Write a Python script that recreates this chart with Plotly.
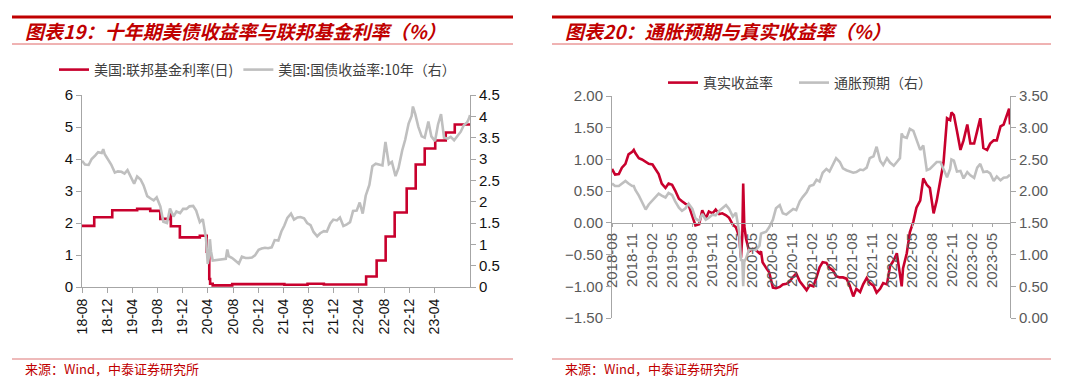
import pandas as pd
import plotly.graph_objects as go

# ---------------- data ----------------
DATES = (
    ["2018-08-01", "2018-08-15", "2018-09-01", "2018-09-15", "2018-10-01", "2018-10-15",
     "2018-11-01", "2018-11-08", "2018-11-15", "2018-12-01", "2018-12-15"]
    + ["2019-01-01", "2019-01-15", "2019-02-01", "2019-02-15", "2019-03-01", "2019-03-15",
       "2019-04-01", "2019-04-15", "2019-05-01", "2019-05-15", "2019-06-01", "2019-06-15",
       "2019-07-01", "2019-07-15", "2019-08-01", "2019-08-15", "2019-09-01", "2019-09-15",
       "2019-10-01", "2019-10-15", "2019-11-01", "2019-11-15", "2019-12-01", "2019-12-15"]
    + ["2020-01-01", "2020-01-15", "2020-02-01", "2020-02-15", "2020-03-01", "2020-03-09",
       "2020-03-15", "2020-03-19", "2020-03-24", "2020-04-01", "2020-04-15", "2020-05-01",
       "2020-05-15", "2020-06-01", "2020-06-08", "2020-06-15", "2020-07-01", "2020-07-15",
       "2020-08-01", "2020-08-15", "2020-09-01", "2020-09-15", "2020-10-01", "2020-10-15",
       "2020-11-01", "2020-11-15", "2020-12-01", "2020-12-15"]
    + ["2021-01-01", "2021-01-15", "2021-02-01", "2021-02-15", "2021-03-01", "2021-03-15",
       "2021-04-01", "2021-04-15", "2021-05-01", "2021-05-15", "2021-06-01", "2021-06-15",
       "2021-07-01", "2021-07-15", "2021-08-01", "2021-08-15", "2021-09-01", "2021-09-15",
       "2021-10-01", "2021-10-15", "2021-11-01", "2021-11-15", "2021-12-01", "2021-12-15"]
    + ["2022-01-01", "2022-01-15", "2022-02-01", "2022-02-15", "2022-03-01", "2022-03-09",
       "2022-03-15", "2022-04-01", "2022-04-15", "2022-05-01", "2022-05-15", "2022-06-01",
       "2022-06-15", "2022-07-01", "2022-07-15", "2022-08-01", "2022-08-15", "2022-09-01",
       "2022-09-15", "2022-10-01", "2022-10-15", "2022-10-21", "2022-11-01", "2022-11-15",
       "2022-12-01", "2022-12-15"]
    + ["2023-01-01", "2023-01-15", "2023-02-01", "2023-02-15", "2023-03-01", "2023-03-15",
       "2023-04-01", "2023-04-15", "2023-05-01", "2023-05-15", "2023-06-01", "2023-06-15",
       "2023-07-01", "2023-07-10", "2023-07-14"]
)

UST10Y = (
    [2.96, 2.87, 2.86, 3.00, 3.08, 3.16, 3.14, 3.23, 3.11, 2.99, 2.87]
    + [2.68, 2.71, 2.70, 2.66, 2.74, 2.59, 2.42, 2.59, 2.52, 2.38, 2.13, 2.08,
       2.03, 2.10, 1.89, 1.53, 1.50, 1.84, 1.65, 1.77, 1.73, 1.83, 1.83, 1.89]
    + [1.90, 1.79, 1.52, 1.59, 1.13, 0.54, 0.73, 1.12, 0.84, 0.62, 0.63, 0.64,
       0.64, 0.66, 0.88, 0.72, 0.68, 0.62, 0.55, 0.71, 0.68, 0.68, 0.69, 0.74,
       0.87, 0.90, 0.92, 0.91]
    + [0.93, 1.10, 1.09, 1.30, 1.44, 1.62, 1.72, 1.58, 1.63, 1.64, 1.61, 1.50,
       1.45, 1.29, 1.19, 1.26, 1.31, 1.30, 1.49, 1.58, 1.56, 1.63, 1.43, 1.46]
    + [1.52, 1.78, 1.79, 1.98, 1.72, 1.95, 2.14, 2.39, 2.83, 2.89, 2.88, 2.85,
       3.40, 2.88, 2.93, 2.60, 2.79, 3.20, 3.45, 3.83, 4.01, 4.23, 4.05, 3.76,
       3.53, 3.50]
    + [3.88, 3.53, 3.42, 3.81, 4.05, 3.50, 3.48, 3.52, 3.44, 3.53, 3.64, 3.79,
       3.86, 3.96, 4.03]
)

REAL_YIELD = (
    [0.85, 0.76, 0.77, 0.87, 0.93, 1.08, 1.12, 1.15, 1.10, 1.02, 1.00]
    + [0.96, 0.93, 0.92, 0.84, 0.77, 0.62, 0.55, 0.62, 0.60, 0.51, 0.38, 0.34,
       0.30, 0.28, 0.12, -0.04, -0.02, 0.20, 0.07, 0.18, 0.15, 0.21, 0.14, 0.15]
    + [0.12, 0.08, -0.03, -0.07, -0.22, -0.55, -0.20, 0.62, -0.05, -0.25, -0.45, -0.41,
       -0.43, -0.48, -0.45, -0.62, -0.71, -0.78, -1.02, -1.03, -1.01, -0.97, -0.96, -0.93,
       -0.85, -0.80, -0.92, -0.98]
    + [-1.06, -0.98, -1.00, -0.86, -0.70, -0.62, -0.63, -0.71, -0.75, -0.84, -0.86, -0.86,
       -0.88, -0.98, -1.16, -1.04, -1.09, -0.97, -0.87, -0.95, -0.99, -1.10, -1.04, -0.95]
    + [-0.97, -0.68, -0.59, -0.48, -0.80, -1.00, -0.72, -0.48, -0.15, 0.02, 0.24, 0.35,
       0.70, 0.60, 0.55, 0.15, 0.35, 0.72, 0.95, 1.65, 1.62, 1.74, 1.70, 1.45,
       1.15, 1.30]
    + [1.55, 1.25, 1.25, 1.45, 1.65, 1.18, 1.15, 1.25, 1.30, 1.30, 1.52, 1.55,
       1.72, 1.80, 1.55]
)

BREAKEVEN = (
    [2.12, 2.08, 2.08, 2.12, 2.16, 2.12, 2.08, 2.08, 2.02, 1.93, 1.82]
    + [1.71, 1.79, 1.85, 1.90, 1.96, 1.93, 1.90, 1.97, 1.94, 1.84, 1.74, 1.69,
       1.73, 1.80, 1.72, 1.57, 1.53, 1.64, 1.55, 1.58, 1.63, 1.62, 1.69, 1.73]
    + [1.78, 1.72, 1.60, 1.66, 1.35, 0.90, 0.93, 0.50, 0.89, 0.94, 1.08, 1.08,
       1.07, 1.14, 1.33, 1.34, 1.36, 1.43, 1.55, 1.73, 1.78, 1.65, 1.63, 1.67,
       1.72, 1.70, 1.84, 1.91]
    + [1.98, 2.08, 2.10, 2.18, 2.15, 2.29, 2.35, 2.31, 2.42, 2.52, 2.46, 2.36,
       2.33, 2.31, 2.29, 2.30, 2.34, 2.33, 2.37, 2.52, 2.55, 2.70, 2.48, 2.41]
    + [2.52, 2.45, 2.40, 2.46, 2.52, 2.91, 2.86, 2.84, 2.98, 2.95, 2.80, 2.65,
       2.72, 2.33, 2.35, 2.42, 2.46, 2.46, 2.36, 2.22, 2.35, 2.50, 2.48, 2.31,
       2.32, 2.20]
    + [2.30, 2.25, 2.21, 2.37, 2.43, 2.30, 2.31, 2.28, 2.16, 2.23, 2.17, 2.21,
       2.22, 2.24, 2.26]
)

FF_DATES = ["2018-08-01", "2018-09-27", "2018-12-20", "2019-04-15", "2019-06-15",
            "2019-08-01", "2019-09-17", "2019-09-19", "2019-10-31", "2020-02-01",
            "2020-03-04", "2020-03-16", "2020-03-20", "2020-04-01", "2020-07-01",
            "2020-10-01", "2021-01-01", "2021-03-01", "2021-06-17", "2021-09-01",
            "2022-03-17", "2022-05-05", "2022-06-16", "2022-07-28", "2022-09-22",
            "2022-11-03", "2022-12-15", "2023-02-02", "2023-03-23", "2023-05-04",
            "2023-07-14"]
FF_RATE = [1.91, 2.18, 2.40, 2.44, 2.38,
           2.13, 2.30, 1.90, 1.55, 1.60,
           1.10, 0.25, 0.10, 0.05, 0.09,
           0.09, 0.09, 0.07, 0.10, 0.08,
           0.33, 0.83, 1.58, 2.33, 3.08,
           3.83, 4.33, 4.58, 4.83, 5.08,
           5.08]

LEFT_TICK_TEXT = ["18-08", "18-12", "19-04", "19-08", "19-12", "20-04", "20-08", "20-12",
                  "21-04", "21-08", "21-12", "22-04", "22-08", "22-12", "23-04"]
RIGHT_TICK_TEXT = ["2018-08", "2018-11", "2019-02", "2019-05", "2019-08", "2019-11",
                   "2020-02", "2020-05", "2020-08", "2020-11", "2021-02", "2021-05",
                   "2021-08", "2021-11", "2022-02", "2022-05", "2022-08", "2022-11",
                   "2023-02", "2023-05"]

# ---------------- styling / layout helpers ----------------
W, H = 1080, 390
RED = "#C8002D"
GRAY = "#BFBFBF"
TITLE_RED = "#C00000"
AXIS_GRAY = "#A6A6A6"
X_START, X_END = pd.Timestamp("2018-08-01"), pd.Timestamp("2023-07-14")
SPAN = X_END - X_START


def px(x):
    return x / W


def py(y):
    return 1 - y / H


# the original uses a category axis: labels are evenly spaced in pixels
left_tickvals = [X_START + SPAN * (25.17 * k / 388.0) for k in range(len(LEFT_TICK_TEXT))]
right_tickvals = [X_START + SPAN * (20.0 * k / 398.0) for k in range(len(RIGHT_TICK_TEXT))]

NUM_FONT = "Liberation Sans, Arial, sans-serif"
CJK_FONT = "Noto Sans CJK SC, sans-serif"

fig = go.Figure()

# left chart
fig.add_trace(go.Scatter(x=DATES, y=UST10Y, name="美国:国债收益率:10年（右）",
                         mode="lines", line=dict(color=GRAY, width=2.6),
                         xaxis="x", yaxis="y2", legend="legend", legendrank=2))
fig.add_trace(go.Scatter(x=FF_DATES, y=FF_RATE, name="美国:联邦基金利率(日)",
                         mode="lines", line=dict(color=RED, width=2.6, shape="hv"),
                         xaxis="x", yaxis="y", legend="legend", legendrank=1))
# right chart
fig.add_trace(go.Scatter(x=DATES, y=BREAKEVEN, name="通胀预期（右）",
                         mode="lines", line=dict(color=GRAY, width=2.6),
                         xaxis="x2", yaxis="y4", legend="legend2", legendrank=2))
fig.add_trace(go.Scatter(x=DATES, y=REAL_YIELD, name="真实收益率",
                         mode="lines", line=dict(color=RED, width=2.6),
                         xaxis="x2", yaxis="y3", legend="legend2", legendrank=1))

common_axis = dict(showgrid=False, zeroline=False, showline=True, linecolor=AXIS_GRAY,
                   linewidth=1, ticks="outside", tickcolor=AXIS_GRAY, ticklen=5, tickwidth=1,
                   automargin=False)

fig.update_layout(
    template="none",
    width=W, height=H,
    margin=dict(l=0, r=0, t=0, b=0, autoexpand=False),
    paper_bgcolor="white", plot_bgcolor="white",
    xaxis=dict(domain=[px(82), px(470)], anchor="y", type="date",
               range=[X_START, X_END], tickmode="array", tickvals=left_tickvals,
               ticktext=LEFT_TICK_TEXT, tickangle=-90,
               tickfont=dict(family=NUM_FONT, size=14, color="#111111"), **common_axis),
    yaxis=dict(domain=[py(287), py(95)], anchor="x", range=[0, 6], dtick=1,
               tickfont=dict(family=NUM_FONT, size=15, color="#111111"), **common_axis),
    yaxis2=dict(overlaying="y", anchor="x", side="right", range=[0, 4.5], dtick=0.5,
                tickfont=dict(family=NUM_FONT, size=15, color="#111111"), **common_axis),
    xaxis2=dict(domain=[px(612), px(1010)], anchor="free", position=py(223), type="date",
                range=[X_START, X_END], tickmode="array", tickvals=right_tickvals,
                ticktext=RIGHT_TICK_TEXT, tickangle=-90,
                tickfont=dict(family=NUM_FONT, size=15, color="#595959"),
                **{**common_axis, "ticklen": 3}),
    yaxis3=dict(domain=[py(318), py(96)], anchor="x2", range=[-1.5, 2], dtick=0.5,
                tickformat=".2f",
                tickfont=dict(family=NUM_FONT, size=15, color="#595959"), **common_axis),
    yaxis4=dict(overlaying="y3", anchor="x2", side="right", range=[0, 3.5], dtick=0.5,
                tickformat=".2f",
                tickfont=dict(family=NUM_FONT, size=15, color="#595959"), **common_axis),
    legend=dict(orientation="h", x=px(54), y=py(70), xanchor="left", yanchor="middle",
                bgcolor="rgba(0,0,0,0)",
                font=dict(family=CJK_FONT, size=14, color="#404040")),
    legend2=dict(orientation="h", x=px(663), y=py(83), xanchor="left", yanchor="middle",
                 bgcolor="rgba(0,0,0,0)", entrywidth=86, entrywidthmode="pixels",
                 font=dict(family=CJK_FONT, size=14, color="#404040")),
    showlegend=True,
)

shapes = []
for x0, x1 in [(12, 513), (552, 1051)]:
    shapes.append(dict(type="line", xref="paper", yref="paper", x0=px(x0), x1=px(x1),
                       y0=py(17), y1=py(17), line=dict(color=TITLE_RED, width=3)))
    shapes.append(dict(type="line", xref="paper", yref="paper", x0=px(x0), x1=px(x1),
                       y0=py(44), y1=py(44), line=dict(color="#E06666", width=1)))
    shapes.append(dict(type="line", xref="paper", yref="paper", x0=px(x0), x1=px(x1),
                       y0=py(359), y1=py(359), line=dict(color="#E8A3A3", width=1.5)))
fig.update_layout(shapes=shapes)

annotations = [
    dict(text="图表19：十年期美债收益率与联邦基金利率（%）", x=px(23), y=py(31)),
    dict(text="图表20：通胀预期与真实收益率（%）", x=px(563), y=py(31)),
]
for a in annotations:
    fig.add_annotation(xref="paper", yref="paper", xanchor="left", yanchor="middle",
                       showarrow=False, text=a["text"], x=a["x"], y=a["y"],
                       font=dict(family=CJK_FONT, size=19, color=TITLE_RED,
                                 style="italic", weight="bold"))
for x in (23, 563):
    fig.add_annotation(xref="paper", yref="paper", xanchor="left", yanchor="middle",
                       showarrow=False, text="来源：Wind，中泰证券研究所", x=px(x), y=py(368),
                       font=dict(family=CJK_FONT, size=13, color=TITLE_RED))

fig.write_html("out.html", config={"displayModeBar": False},
               post_script="document.body.style.margin='0';document.body.style.padding='0';")
